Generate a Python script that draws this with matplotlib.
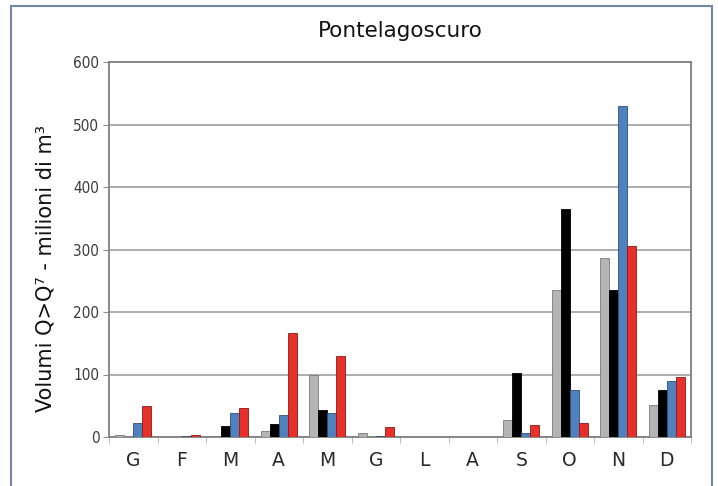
import matplotlib
matplotlib.use("Agg")
import matplotlib.pyplot as plt
import numpy as np
from matplotlib.patches import Rectangle

months = ["G", "F", "M", "A", "M", "G", "L", "A", "S", "O", "N", "D"]
grey_vals = [3, 0, 1, 10, 99, 7, 0, 0, 28, 236, 287, 51]
black_vals = [0, 0, 17, 21, 44, 0, 0, 0, 102, 365, 235, 75]
blue_vals = [22, 1, 39, 35, 39, 2, 0, 0, 7, 76, 530, 90]
red_vals = [49, 3, 46, 166, 130, 16, 0, 0, 20, 23, 305, 96]
yticks = [0, 100, 200, 300, 400, 500, 600]

series = [grey_vals, black_vals, blue_vals, red_vals]
colors = ["#b4b4b4", "#000000", "#4f81bd", "#e8302a"]
edges = ["#7a7a7a", "#000000", "#2f4f7a", "#8a1a16"]

fig = plt.figure(figsize=(7.18, 4.86), dpi=100)
ax = fig.add_axes([109 / 718, 1 - 437 / 486, (691 - 109) / 718, (437 - 62) / 486])

x = np.arange(len(months))
w = 0.186
for i, (vals, c, ec) in enumerate(zip(series, colors, edges)):
    ax.bar(x + (i - 1.5) * w, vals, width=w, color=c, edgecolor=ec, linewidth=0.6, zorder=3)

ax.set_xlim(-0.5, len(months) - 0.5)
ax.set_ylim(0, 600)
ax.set_yticks(yticks)
ax.set_yticklabels([str(v) for v in yticks], fontfamily="DejaVu Sans", fontstretch="condensed",
                   fontsize=11, color="#3a3a3a")
ax.grid(axis="y", color="#a0a0a0", linewidth=1.2, zorder=0)
ax.tick_params(axis="y", length=4, color="#909090", pad=3)

ax.set_xticks(x)
ax.set_xticklabels(months, fontfamily="DejaVu Sans", fontsize=13.5, color="#2a2a2a")
ax.tick_params(axis="x", which="major", length=0, pad=10)
ax.set_xticks(np.arange(-0.5, len(months) + 0.5, 1), minor=True)
ax.tick_params(axis="x", which="minor", length=4, color="#b0b0b0")

for s in ax.spines.values():
    s.set_color("#808080")
    s.set_linewidth(1.3)

ax.set_ylabel("Volumi Q>Q⁷ - milioni di m³", fontfamily="DejaVu Sans",
              fontsize=15, color="#111111")
ax.yaxis.set_label_coords((55 - 109) / 582, (437 - 268) / 375)

fig.text(400 / 718, 1 - 31 / 486, "Pontelagoscuro", ha="center", va="center",
         fontfamily="DejaVu Sans", fontsize=15.5, color="#111111")

fig.patches.append(Rectangle((11 / 718, -0.02), (712 - 11) / 718, 1 - 6 / 486 + 0.02,
                             transform=fig.transFigure, fill=False,
                             edgecolor="#7088a8", linewidth=1.5))

fig.savefig("out.png", dpi=100)
